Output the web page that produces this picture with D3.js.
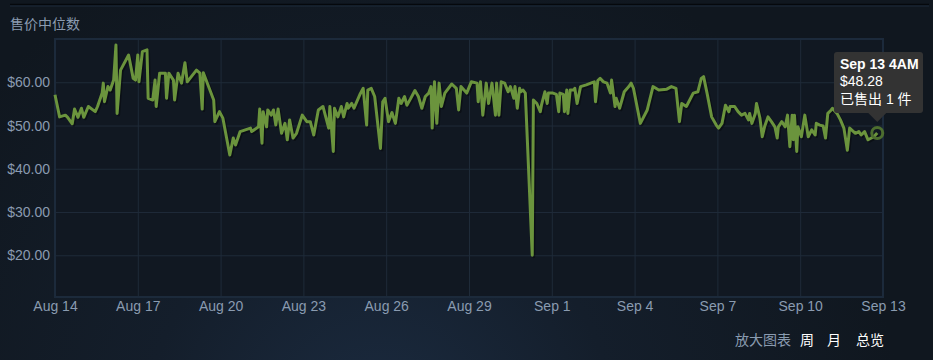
<!DOCTYPE html>
<html>
<head>
<meta charset="utf-8">
<script src="https://cdn.jsdelivr.net/npm/d3@7"></script>
<style>
html,body{margin:0;padding:0;background:#111822;overflow:hidden;}
svg{display:block;}
text{font-family:Arial,"Liberation Sans","Noto Sans CJK SC",sans-serif;}
</style>
</head>
<body>
<svg id="chart" width="933" height="360"></svg>
<script>
// ---- data (hours since Aug 14 00:00, median sale price in USD) ----
const hours = [0,4,9,11,15,17,20,23,25,29,35,37,41,42,43,46,48,51,53,54,57,64,68,70,72,73,76,80,81,85,87,88,91,96,97,99,103,104,107,110,113,115,123,126,128,129,138,139,143,146,152,155,157,161,170,171,177,178,180,181,184,185,188,190,192,194,197,200,202,204,207,210,215,219,222,225,229,233,238,239,242,243,246,249,251,254,255,258,260,265,268,271,272,275,278,283,285,287,290,293,296,299,301,304,306,309,313,316,319,322,325,327,328,330,332,334,336,339,345,349,351,353,358,362,367,368,370,372,375,377,380,383,384,386,388,391,394,396,399,400,402,404,405,407,409,415,416,419,422,423,426,428,429,433,436,438,439,442,443,445,446,448,451,452,454,457,462,467,469,470,472,474,477,480,483,484,487,488,491,493,495,499,501,503,509,515,520,525,532,536,540,543,545,549,555,559,562,564,567,571,575,577,580,583,586,587,591,594,597,600,603,604,606,609,610,613,615,617,620,623,626,628,629,632,635,637,639,641,642,643,645,646,649,652,655,658,661,662,665,668,670,672,675,676,680,683,686,689,691,696,699,701,704,707,712,715];
const prices = [57.1,52.0,52.4,51.9,50.4,53.8,51.9,54.0,51.9,54.4,53.2,54.4,57.5,59.8,55.5,59.0,58.2,60.5,68.6,52.8,62.8,66.3,60.9,60.5,66.3,60.1,67.1,67.5,56.3,55.9,60.5,54.4,62.1,62.1,56.3,62.1,60.5,55.9,62.1,59.8,64.5,60.1,62.8,62.1,53.8,62.2,55.9,50.9,53.2,51.7,43.2,47.1,45.5,48.6,49.4,48.6,49.7,53.8,45.9,53.2,49.7,53.6,52.4,53.6,50.1,53.8,48.2,50.5,46.7,51.3,47.1,48.2,52.4,50.9,50.9,47.8,53.6,54.4,49.4,54.4,44.0,54.0,52.0,54.4,52.0,55.1,54.0,55.1,54.0,57.1,58.6,50.1,58.2,58.6,56.7,44.7,55.5,56.3,50.9,53.0,50.5,56.3,55.1,56.7,54.7,56.1,58.1,56.7,54.0,56.7,57.5,59.0,49.4,60.1,50.5,59.8,54.4,57.5,59.6,58.6,53.6,59.0,57.5,60.1,59.8,55.5,60.1,52.4,59.8,55.1,59.8,52.4,59.8,52.4,60.1,59.8,57.8,59.0,56.3,59.0,54.0,58.6,57.8,58.2,57.5,20.0,55.9,55.1,53.2,54.7,57.8,55.1,57.5,57.5,57.2,53.2,57.5,57.2,53.2,58.2,52.8,58.2,58.2,58.6,55.1,59.0,59.4,59.9,60.1,55.5,60.4,60.9,60.1,59.8,57.5,60.5,54.4,56.3,54.0,55.9,57.8,59.0,59.8,58.6,50.5,53.6,59.0,58.2,58.4,59.0,58.6,50.9,55.1,54.4,57.5,57.8,60.9,61.3,57.5,52.0,50.1,49.4,50.5,54.7,53.2,54.4,54.4,53.2,52.4,52.8,51.3,52.8,50.5,52.8,55.1,51.7,47.4,49.7,52.0,50.9,49.7,47.1,49.7,50.9,49.7,52.4,45.1,52.4,46.7,52.4,44.0,49.7,47.4,52.4,47.4,49.0,47.8,50.5,50.1,49.9,47.1,52.8,53.6,54.0,52.8,51.3,49.4,44.3,49.4,48.2,48.6,47.8,48.6,46.7,47.4,48.28];
const xTickLabels = ["Aug 14","Aug 17","Aug 20","Aug 23","Aug 26","Aug 29","Sep 1","Sep 4","Sep 7","Sep 10","Sep 13"];
const yTickValues = [20,30,40,50,60,70];
const titleText = "售价中位数";
const tooltipLines = ["Sep 13 4AM","$48.28","已售出 1 件"];
const zoomLabel = "放大图表";
const zoomOptions = ["周","月","总览"];

// ---- layout ----
const W = 933, H = 360;
const m = {left:55, right:883, top:39, bottom:297};
const FS = 14;
const labelColor = "#8a9bb0";
const svg = d3.select("#chart");

const defs = svg.append("defs");
const bg = defs.append("radialGradient").attr("id","bg")
  .attr("gradientUnits","userSpaceOnUse")
  .attr("cx",380).attr("cy",430).attr("r",520);
bg.append("stop").attr("offset","0%").attr("stop-color","#1b2b40");
bg.append("stop").attr("offset","45%").attr("stop-color","#141e2b");
bg.append("stop").attr("offset","100%").attr("stop-color","#10171f");
svg.append("rect").attr("width",W).attr("height",H).attr("fill","url(#bg)");

// top rule
svg.append("line").attr("x1",10).attr("x2",929).attr("y1",4.5).attr("y2",4.5)
  .attr("stroke","#05080c").attr("stroke-width",1.5);
svg.append("line").attr("x1",10).attr("x2",929).attr("y1",6).attr("y2",6)
  .attr("stroke","#1c2a3a").attr("stroke-width",1.2);

svg.append("text").attr("x",10).attr("y",29).attr("fill",labelColor)
  .attr("font-size",FS).text(titleText);

// plot background
svg.append("rect").attr("x",m.left).attr("y",m.top)
  .attr("width",m.right-m.left).attr("height",m.bottom-m.top).attr("fill","#111822");

const parse = d3.timeParse("%b %d %Y");
const start = parse("Aug 14 2023");
const end = parse("Sep 13 2023");
const x = d3.scaleTime().domain([start,end]).range([m.left,m.right]);
const y = d3.scaleLinear().domain([10.36,70]).range([m.bottom,m.top]);
const tickDates = xTickLabels.map(s => parse(s + " 2023"));

// grid
const gx = svg.append("g").attr("transform",`translate(0,${m.bottom})`)
  .call(d3.axisBottom(x).tickValues(tickDates).tickSize(-(m.bottom-m.top)).tickFormat(""));
gx.select(".domain").remove();
gx.selectAll("line").attr("stroke","#1f2b39").attr("stroke-width",1);

const gy = svg.append("g").attr("transform",`translate(${m.left},0)`)
  .call(d3.axisLeft(y).tickValues(yTickValues).tickSize(-(m.right-m.left)).tickFormat(""));
gy.select(".domain").remove();
gy.selectAll("line").attr("stroke","#1f2b39").attr("stroke-width",1);

// frame
svg.append("rect").attr("x",m.left).attr("y",m.top)
  .attr("width",m.right-m.left).attr("height",m.bottom-m.top)
  .attr("fill","none").attr("stroke","#1c2a3b").attr("stroke-width",2);

// tick labels
const xl = svg.append("g").attr("transform",`translate(0,${m.bottom})`)
  .call(d3.axisBottom(x).tickValues(tickDates).tickSize(0).tickPadding(4)
    .tickFormat((d,i)=>xTickLabels[i]));
xl.select(".domain").remove();
xl.selectAll("text").attr("fill",labelColor).attr("font-size",FS)
  .attr("font-family","Arial, 'Liberation Sans', sans-serif");

const yl = svg.append("g").attr("transform",`translate(${m.left},0)`)
  .call(d3.axisLeft(y).tickValues(yTickValues.filter(v=>v<70)).tickSize(0).tickPadding(5)
    .tickFormat(d3.format("$.2f")));
yl.select(".domain").remove();
yl.selectAll("text").attr("fill",labelColor).attr("font-size",FS)
  .attr("font-family","Arial, 'Liberation Sans', sans-serif");

// line
const data = hours.map((h,i)=>({t:d3.timeHour.offset(start,h), v:prices[i]}));
const line = d3.line().x(d=>x(d.t)).y(d=>y(d.v));
svg.append("path").datum(data).attr("d",line).attr("fill","none")
  .attr("stroke","rgba(0,0,0,0.35)").attr("stroke-width",3)
  .attr("stroke-linejoin","round").attr("transform","translate(1.5,1.5)");
svg.append("path").datum(data).attr("d",line).attr("fill","none")
  .attr("stroke","#6b943d").attr("stroke-width",3).attr("stroke-linejoin","round");

// highlight
const last = data[data.length-1];
svg.append("circle").attr("cx",x(last.t)).attr("cy",y(last.v)).attr("r",5.5)
  .attr("fill","none").attr("stroke","#4d6e2f").attr("stroke-width",3);

// tooltip
const tx = 834, ty = 52, tw = 89, th = 61;
const tipX = x(last.t);
const tip = svg.append("g");
tip.append("rect").attr("x",tx).attr("y",ty).attr("width",tw).attr("height",th)
  .attr("rx",3).attr("fill","#333333");
tip.append("path").attr("d",`M${tipX-9},${ty+th} L${tipX},${ty+th+9} L${tipX+9},${ty+th} Z`)
  .attr("fill","#333333");
tip.append("text").attr("x",840).attr("y",69).attr("fill","#ffffff")
  .attr("font-size",FS).attr("font-weight","bold").text(tooltipLines[0]);
tip.append("text").attr("x",840).attr("y",86).attr("fill","#ffffff")
  .attr("font-size",FS).text(tooltipLines[1]);
tip.append("text").attr("x",840).attr("y",104).attr("fill","#ffffff")
  .attr("font-size",FS).text(tooltipLines[2]);

// zoom controls
svg.append("text").attr("x",735).attr("y",345).attr("fill",labelColor)
  .attr("font-size",FS).text(zoomLabel);
const optX = [800, 827, 856];
zoomOptions.forEach((t,i)=>{
  svg.append("text").attr("x",optX[i]).attr("y",345).attr("fill","#ffffff")
    .attr("font-size",FS).text(t);
});
</script>
</body>
</html>
